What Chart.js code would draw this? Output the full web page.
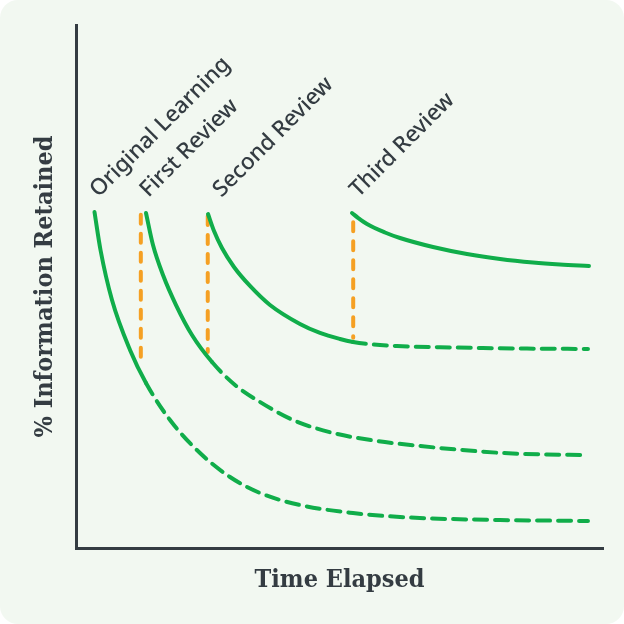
<!DOCTYPE html>
<html>
<head>
<meta charset="utf-8">
<script src="https://cdn.jsdelivr.net/npm/chart.js@4.4.1/dist/chart.umd.min.js"></script>
<style>
  html, body { margin: 0; padding: 0; background: #ffffff; }
  #wrap { width: 624px; height: 624px; }
</style>
</head>
<body>
<div id="wrap"><canvas id="c" width="624" height="624"></canvas></div>
<script>
// ---- Data (time units 0-100, % retained 0-100) ----
const curveLabels = ['Original Learning', 'First Review', 'Second Review', 'Third Review'];

const originalX = [3.51, 4.65, 6.83, 10.25, 13.28, 17.84, 23.53, 29.22, 34.91, 42.50, 52.56, 61.48, 70.97, 80.46, 97.15];
const originalY = [64.24, 56.98, 47.42, 37.86, 31.55, 24.47, 18.16, 13.58, 10.52, 8.22, 6.69, 5.93, 5.54, 5.35, 5.16];
const originalSolidPoints = 5;

const firstX = [13.28, 14.61, 16.51, 18.98, 22.01, 25.81, 30.17, 34.91, 41.18, 48.77, 57.12, 65.28, 73.24, 81.02, 89.37, 97.15];
const firstY = [64.05, 57.93, 52.20, 46.46, 40.73, 35.56, 31.17, 27.92, 24.47, 21.99, 20.46, 19.50, 18.74, 18.16, 17.88, 17.78];
const firstSolidPoints = 6;

const secondX = [25.05, 26.19, 27.70, 29.98, 33.02, 36.81, 42.50, 46.30, 50.09, 52.56, 55.22, 60.91, 69.07, 77.23, 85.58, 97.15];
const secondY = [63.86, 60.61, 57.36, 53.73, 50.10, 46.46, 42.83, 41.11, 39.96, 39.39, 39.01, 38.62, 38.39, 38.24, 38.13, 38.05];
const secondSolidPoints = 10;

const thirdX = [52.37, 53.51, 55.22, 58.63, 61.48, 67.74, 74.19, 80.46, 86.72, 91.84, 97.34];
const thirdY = [64.05, 63.14, 61.95, 60.33, 59.27, 57.55, 56.21, 55.26, 54.59, 54.21, 53.92];
const thirdSolidPoints = 11;

// Review moments (orange dashed jumps)
const reviewX = [12.3, 25.0, 52.6];
const reviewTopY = [63.7, 63.5, 62.3];
const reviewBottomY = [35.4, 37.5, 40.2];

const axisTitleX = 'Time Elapsed';
const axisTitleY = '% Information Retained';

// ---- Styling ----
const GREEN = '#10ad4a';
const ORANGE = '#f5a023';
const INK = '#343c42';
const CARD = '#f2f8f1';
const labelNudgeX = [4, 2.5, 13.5, 6.5];   // px nudges of the rotated labels
const labelLiftPx = 14;

function pts(xs, ys) { return xs.map((x, i) => ({ x: x, y: ys[i] })); }

function curveDataset(label, xs, ys, solidCount) {
  return {
    label: label,
    data: pts(xs, ys),
    borderColor: GREEN,
    borderWidth: 4,
    borderCapStyle: 'round',
    borderJoinStyle: 'round',
    pointRadius: 0,
    cubicInterpolationMode: 'monotone',
    fill: false,
    segment: {
      borderDash: ctx => (ctx.p0DataIndex >= solidCount - 1 ? [13, 8] : [])
    }
  };
}

const datasets = [
  curveDataset(curveLabels[0], originalX, originalY, originalSolidPoints),
  curveDataset(curveLabels[1], firstX, firstY, firstSolidPoints),
  curveDataset(curveLabels[2], secondX, secondY, secondSolidPoints),
  curveDataset(curveLabels[3], thirdX, thirdY, thirdSolidPoints)
];
reviewX.forEach((x, i) => {
  datasets.push({
    label: 'review' + (i + 1),
    data: [{ x: x, y: reviewTopY[i] }, { x: x, y: reviewBottomY[i] }],
    borderColor: ORANGE,
    borderWidth: 4,
    borderDash: [9, 10],
    borderCapStyle: 'round',
    pointRadius: 0,
    fill: false
  });
});

const cardPlugin = {
  id: 'card',
  beforeDraw(chart) {
    const ctx = chart.ctx;
    ctx.save();
    ctx.fillStyle = CARD;
    ctx.beginPath();
    ctx.roundRect(0, 0, chart.width, chart.height, 18);
    ctx.fill();
    ctx.restore();
  }
};

const curveLabelPlugin = {
  id: 'curveLabels',
  afterDatasetsDraw(chart) {
    const ctx = chart.ctx;
    const starts = [originalY[0], firstY[0], secondY[0], thirdY[0]];
    const baseY = chart.scales.y.getPixelForValue(Math.max.apply(null, starts)) - labelLiftPx;
    ctx.save();
    ctx.fillStyle = INK;
    ctx.font = '500 22.5px "Noto Sans", "Open Sans", sans-serif';
    ctx.textAlign = 'left';
    ctx.textBaseline = 'alphabetic';
    curveLabels.forEach((text, i) => {
      const p = chart.getDatasetMeta(i).data[0];
      ctx.save();
      ctx.translate(p.x + labelNudgeX[i], baseY);
      ctx.rotate(-Math.PI / 4);
      ctx.fillText(text, 0, 0);
      ctx.restore();
    });
    ctx.restore();
  }
};

const titleFont = { family: "'DejaVu Serif Condensed', 'Liberation Serif', serif", size: 25, weight: 'bold', lineHeight: 1.2 };

new Chart(document.getElementById('c'), {
  type: 'line',
  data: { datasets: datasets },
  options: {
    responsive: false,
    animation: false,
    devicePixelRatio: 1,
    layout: { padding: { left: 30, top: 25, right: 21, bottom: 29 } },
    plugins: { legend: { display: false }, tooltip: { enabled: false } },
    scales: {
      x: {
        type: 'linear', min: 0, max: 100,
        grid: { display: false, drawTicks: false },
        ticks: { display: false },
        border: { display: true, color: INK, width: 3 },
        title: { display: true, text: axisTitleX, color: INK, font: titleFont, padding: { top: 17, bottom: 0 } }
      },
      y: {
        type: 'linear', min: 0, max: 100,
        grid: { display: false, drawTicks: false },
        ticks: { display: false },
        border: { display: true, color: INK, width: 3 },
        title: { display: true, text: axisTitleY, color: INK, font: titleFont, padding: { top: 0, bottom: 16 } }
      }
    }
  },
  plugins: [cardPlugin, curveLabelPlugin]
});
</script>
</body>
</html>
